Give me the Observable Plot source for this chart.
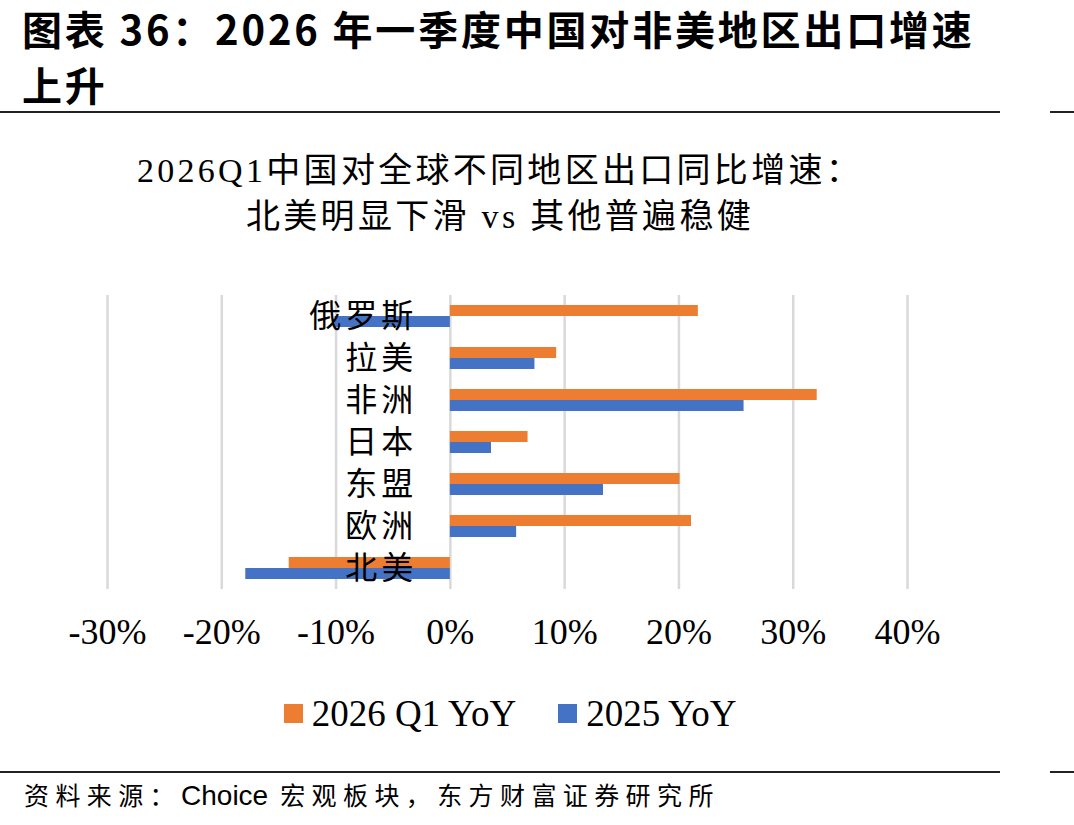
<!DOCTYPE html>
<html>
<head>
<meta charset="utf-8">
<script src="https://cdn.jsdelivr.net/npm/d3@7"></script>
<script src="https://cdn.jsdelivr.net/npm/@observablehq/plot@0.6"></script>
<style>
  html, body { margin: 0; padding: 0; background: #fff; }
  #page { position: relative; width: 1074px; height: 825px; overflow: hidden; background: #fff; }
  .abs { position: absolute; white-space: nowrap; }
  #title { left: 22px; top: 0px; font-family: "Noto Sans CJK SC", sans-serif; font-weight: 700; font-size: 40px; line-height: 56px; letter-spacing: 2.8px; color: #000; }
  .rule { position: absolute; height: 2px; background: #222; }
  #sub { left: 0; width: 1000px; top: 148px; text-align: center; font-family: "Liberation Serif", "Noto Sans CJK SC", serif; font-size: 34px; line-height: 46px; letter-spacing: 3.3px; color: #000; }
  #legend { top: 692px; left: 0; width: 1020px; display: flex; justify-content: center; align-items: center; font-family: "Liberation Serif", serif; font-size: 37px; color: #000; }
  .sw { display: inline-block; width: 19px; height: 19px; margin-right: 9px; }
  .item { display: flex; align-items: center; margin: 0 21px; }
  #source { left: 24px; top: 776px; font-family: "Noto Sans CJK SC", sans-serif; font-size: 25px; line-height: 36px; letter-spacing: 6.4px; color: #000; }
  #source .lat { font-family: "Liberation Sans", Arial, sans-serif; font-size: 28px; letter-spacing: 0; }
  #chart { left: 0; top: 240px; }
</style>
</head>
<body>
<div id="page">
  <div id="title" class="abs">图表 36：2026 年一季度中国对非美地区出口增速<br>上升</div>
  <div class="rule" style="left:0;width:1000px;top:111px;"></div>
  <div class="rule" style="left:1050px;width:24px;top:111px;"></div>
  <div id="sub" class="abs"></div>
  <div id="chart" class="abs"></div>
  <div id="legend" class="abs"></div>
  <div class="rule" style="left:0;width:1000px;top:771px;"></div>
  <div class="rule" style="left:1050px;width:24px;top:771px;"></div>
  <div id="source" class="abs">资料来源：<span class="lat">Choice</span> 宏观板块，东方财富证券研究所</div>
</div>
<script>
// ---- data ----
const categories = ["俄罗斯", "拉美", "非洲", "日本", "东盟", "欧洲", "北美"];
const yoy2026Q1 = [0.217, 0.093, 0.321, 0.068, 0.201, 0.211, -0.141];
const yoy2025 = [-0.101, 0.074, 0.257, 0.036, 0.134, 0.058, -0.179];
const seriesNames = ["2026 Q1 YoY", "2025 YoY"];
const seriesColors = ["#ED7D31", "#4472C4"];
const xTicks = [-0.3, -0.2, -0.1, 0, 0.1, 0.2, 0.3, 0.4];
const xTickLabels = ["-30%", "-20%", "-10%", "0%", "10%", "20%", "30%", "40%"];
const subtitleLines = ["2026Q1中国对全球不同地区出口同比增速：", "北美明显下滑 vs 其他普遍稳健"];

// ---- tables ----
const rows2026 = categories.map((c, i) => ({cat: c, v: yoy2026Q1[i]}));
const rows2025 = categories.map((c, i) => ({cat: c, v: yoy2025[i]}));

document.getElementById("sub").innerHTML = subtitleLines.join("<br>");

const serif = "'Liberation Serif', 'Noto Sans CJK SC', serif";

const chart = Plot.plot({
  width: 1074,
  height: 440,
  marginLeft: 107,
  marginRight: 167,
  marginTop: 55,
  marginBottom: 91,
  style: {fontFamily: serif, fontSize: "36px", color: "#000", background: "#fff"},
  x: {domain: [-0.3, 0.4], ticks: xTicks, label: null, tickFormat: d => xTickLabels[xTicks.indexOf(d)] ?? ""},
  y: {domain: categories, paddingInner: 20 / 42, paddingOuter: 10 / 42, axis: null, label: null},
  marks: [
    Plot.gridX(xTicks, {stroke: "#d9d9d9", strokeWidth: 2.5, strokeOpacity: 1}),
    Plot.barX(rows2026, {y: "cat", x: "v", fill: seriesColors[0], insetBottom: 11}),
    Plot.barX(rows2025, {y: "cat", x: "v", fill: seriesColors[1], insetTop: 11}),
    Plot.axisX(xTicks, {tickSize: 0, tickPadding: 29, fontSize: 36, fontFamily: serif, label: null, tickFormat: d => xTickLabels[xTicks.indexOf(d)]}),
    Plot.text(categories, {x: () => 0, y: d => d, dx: -33, textAnchor: "end", fontSize: 32, fontFamily: serif, fill: "#000"})
  ]
});
d3.select(chart).selectAll("g[aria-label='text'] text").style("letter-spacing", "4px");
document.getElementById("chart").appendChild(chart);

// ---- legend ----
const legend = d3.select("#legend");
seriesNames.forEach((n, i) => {
  const it = legend.append("div").attr("class", "item");
  it.append("span").attr("class", "sw").style("background", seriesColors[i]);
  it.append("span").text(n);
});
</script>
</body>
</html>
